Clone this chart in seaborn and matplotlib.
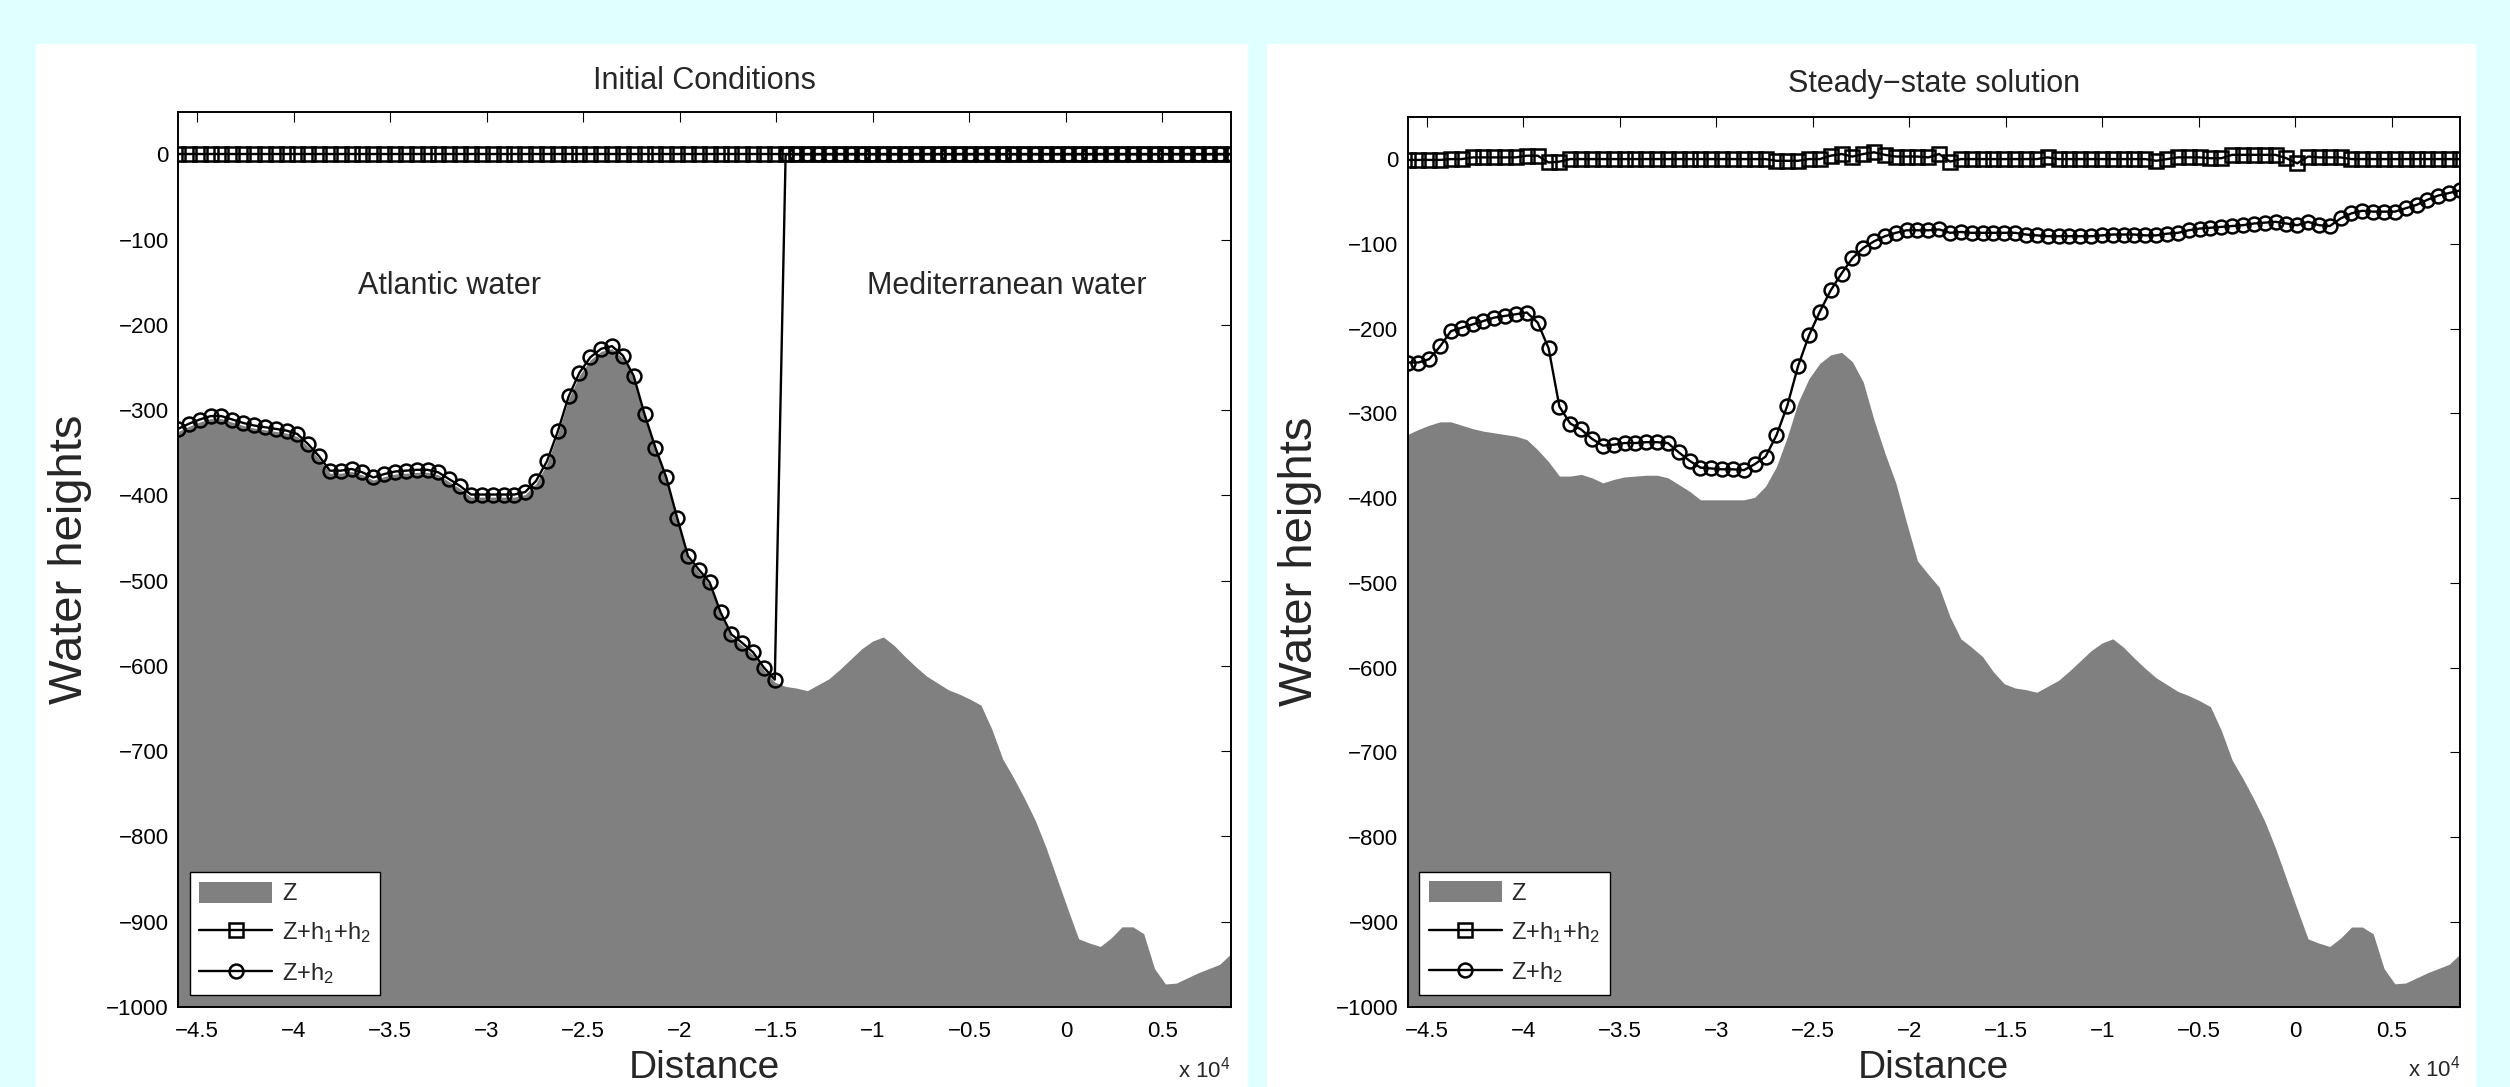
"""Two-layer exchange flow: initial conditions vs steady state"""

import numpy as np
import matplotlib
matplotlib.use('Agg')
import matplotlib.pyplot as plt
from matplotlib.patches import Rectangle, Patch
from matplotlib.lines import Line2D
import seaborn as sns

sns.set_style('white')
plt.rcParams['font.family'] = ['Liberation Sans', 'DejaVu Sans']
plt.rcParams['mathtext.default'] = 'regular'

# model grid (m), 98 nodes from the left to the right boundary
X_START, X_END, N_PTS = -46000, 8530, 98
distance = np.linspace(X_START, X_END, N_PTS)

# bottom topography Z
bed_z = [
    -325, -319, -314, -310, -310, -314, -318, -321, -323, -325,
    -327, -331, -343, -357, -374, -374, -372, -376, -382, -378,
    -375, -374, -373, -373, -376, -384, -392, -402, -402, -402,
    -402, -402, -399, -386, -363, -328, -287, -259, -241, -231,
    -228, -239, -263, -308, -347, -382, -429, -474, -490, -505,
    -540, -566, -576, -587, -605, -619, -624, -626, -629, -622,
    -615, -604, -592, -580, -571, -566, -576, -589, -601, -612,
    -620, -628, -633, -639, -646, -674, -709, -731, -755, -781,
    -813, -849, -885, -920, -925, -929, -919, -906, -906, -914,
    -955, -973, -972, -966, -960, -955, -950, -938,
]

# initial state: flat free surface, interface on the bed west of the strait
init_surface = [0] * N_PTS
init_interface = [
    -322, -316, -311, -307, -307, -311, -315, -318, -320, -322,
    -324, -328, -340, -354, -371, -371, -369, -373, -379, -375,
    -372, -371, -370, -370, -373, -381, -389, -399, -399, -399,
    -399, -399, -396, -383, -360, -325, -284, -256, -238, -228,
    -225, -236, -260, -305, -344, -379, -426, -471, -487, -502,
    -537, -563, -573, -584, -602, -616,
] + [0] * 42

# steady state
steady_surface = [
    -1, -1, -1, -1, 0, 0, 2, 2, 2, 2,
    2, 4, 4, -4, -3, 0, 0, 0, 0, 0,
    0, 0, 0, 0, 0, 0, 0, 0, 0, 0,
    0, 0, 0, 0, -2, -2, -2, 0, 0, 4,
    6, 3, 6, 8, 5, 3, 3, 3, 2, 6,
    -3, 0, 0, 0, 0, 0, 0, 0, 0, 2,
    0, 0, 0, 0, 0, 0, 0, 0, 0, -2,
    0, 2, 2, 2, 1, 1, 5, 5, 5, 5,
    5, 1, -5, 3, 2, 2, 2, 0, 0, 0,
    0, 0, 0, 0, 0, 0, 0, 0,
]
steady_interface = [
    -240, -240, -236, -221, -203, -199, -195, -191, -187, -185,
    -183, -181, -193, -223, -292, -312, -319, -330, -338, -337,
    -335, -335, -334, -334, -335, -346, -356, -364, -365, -366,
    -366, -367, -360, -351, -326, -291, -244, -208, -180, -155,
    -135, -117, -105, -97, -91, -87, -84, -84, -84, -83,
    -87, -86, -87, -87, -87, -87, -87, -89, -90, -91,
    -91, -91, -91, -91, -90, -89, -89, -89, -90, -90,
    -88, -87, -84, -82, -81, -80, -79, -78, -76, -75,
    -74, -76, -78, -74, -78, -79, -70, -64, -61, -62,
    -62, -62, -58, -54, -48, -43, -40, -37,
]

x_ticks = [-45000, -40000, -35000, -30000, -25000, -20000, -15000, -10000, -5000, 0, 5000]
x_tick_labels = ['\u22124.5', '\u22124', '\u22123.5', '\u22123', '\u22122.5', '\u22122',
                 '\u22121.5', '\u22121', '\u22120.5', '0', '0.5']
y_ticks = [0, -100, -200, -300, -400, -500, -600, -700, -800, -900, -1000]
y_tick_labels = ['0'] + ['\u2212%d' % (-v) for v in y_ticks[1:]]

BG = '#E0FFFF'
GRAY = '#808080'
LINE_KW = dict(color='k', linewidth=1.7, markersize=10, markerfacecolor='none',
               markeredgecolor='k', markeredgewidth=1.8)

fig = plt.figure(figsize=(25.1, 10.87), dpi=100, facecolor=BG)
# white backing panels behind each axes
fig.patches.append(Rectangle((0.01434, 0.0), 0.48275, 0.95952, transform=fig.transFigure,
                             facecolor='white', edgecolor='none', zorder=-10))
fig.patches.append(Rectangle((0.50466, 0.0), 0.48171, 0.95952, transform=fig.transFigure,
                             facecolor='white', edgecolor='none', zorder=-10))

ax_init = fig.add_axes([0.07092, 0.0736, 0.41932, 0.82365])
ax_steady = fig.add_axes([0.56076, 0.07387, 0.41932, 0.81877])


def draw_panel(ax, title, surface, interface, title_pad):
    ax.fill_between(distance, bed_z, -1000, color=GRAY, linewidth=0, zorder=1)
    sns.lineplot(x=distance, y=surface, ax=ax, marker='s', errorbar=None, zorder=2, **LINE_KW)
    sns.lineplot(x=distance, y=interface, ax=ax, marker='o', errorbar=None, zorder=3, **LINE_KW)

    ax.set_xlim(X_START, X_END)
    ax.set_ylim(-1000, 50)
    ax.set_xticks(x_ticks)
    ax.set_xticklabels(x_tick_labels)
    ax.set_yticks(y_ticks)
    ax.set_yticklabels(y_tick_labels)
    ax.tick_params(direction='in', top=True, right=True, length=7.2, width=0.8,
                   labelsize=16, colors='k')
    ax.tick_params(axis='x', pad=10)
    ax.tick_params(axis='y', pad=6.5)
    for sp in ax.spines.values():
        sp.set_color('k')
        sp.set_linewidth(1.4)
        sp.set_zorder(5)

    ax.set_title(title, fontsize=22, pad=title_pad)
    ax.set_xlabel('Distance', fontsize=28, labelpad=6)
    ax.set_ylabel('Water heights', fontsize=34, labelpad=10)
    ax.text(1.0, -0.070, 'x 10$^4$', transform=ax.transAxes, ha='right', va='center',
            fontsize=16)

    handles = [
        Patch(facecolor=GRAY, edgecolor='none'),
        Line2D([], [], marker='s', **LINE_KW),
        Line2D([], [], marker='o', **LINE_KW),
    ]
    labels = ['Z', 'Z+h$_1$+h$_2$', 'Z+h$_2$']
    leg = ax.legend(handles, labels, loc='lower left', fontsize=17, frameon=True,
                    fancybox=False, framealpha=1, edgecolor='k', borderaxespad=0.5,
                    handlelength=3.1, handleheight=1.0, handletextpad=0.4,
                    labelspacing=0.65, borderpad=0.4, numpoints=1)
    leg.get_frame().set_linewidth(1.0)
    leg.set_zorder(10)


draw_panel(ax_init, 'Initial Conditions', init_surface, init_interface, 16)
ax_init.text(-36700, -150, 'Atlantic water', fontsize=22, va='center_baseline')
ax_init.text(-10300, -150, 'Mediterranean water', fontsize=22, va='center_baseline')

draw_panel(ax_steady, 'Steady\u2212state solution', steady_surface, steady_interface, 18)

fig.savefig('out.png', dpi=100, facecolor=BG)
